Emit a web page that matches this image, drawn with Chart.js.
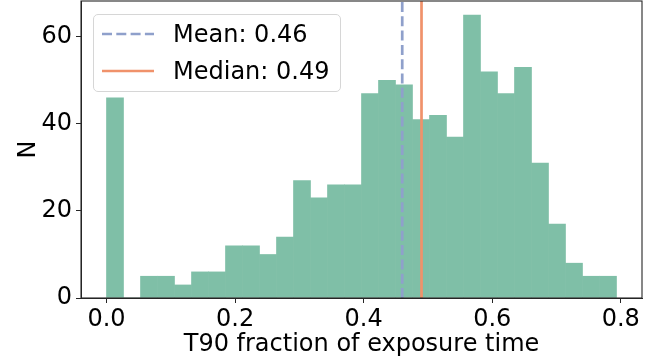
<!DOCTYPE html>
<html>
<head>
<meta charset="utf-8">
<script src="https://cdn.jsdelivr.net/npm/chart.js@4/dist/chart.umd.min.js"></script>
<style>
  body { margin: 0; background: #fff; }
  #wrap { position: relative; width: 665px; height: 361px; }
  #legend {
    position: absolute; left: 93px; top: 14px; width: 246px; height: 76px;
    border: 1px solid #d6d6d6; border-radius: 5px; background: rgba(255,255,255,0.8);
    font-family: 'DejaVu Sans', sans-serif; font-size: 24px; color: #000;
  }
  .row { position: absolute; left: 0; height: 30px; display: flex; align-items: center; }
  .row svg { margin-left: 8px; margin-right: 19px; }
</style>
</head>
<body>
<div id="wrap">
  <canvas id="myChart" width="665" height="361"></canvas>
  <div id="legend"></div>
</div>
<script>
// histogram counts, 30 equal bins
let contagens = [46, 0, 5, 5, 3, 6, 6, 12, 12, 10, 14, 27, 23, 26, 26, 47, 50, 49, 41, 42, 37, 65, 52, 47, 53, 31, 17, 8, 5, 5]
let binInicio = 0.0
let binFim = 0.7933
let media = 0.46
let mediana = 0.49
let xTicks = [0.0, 0.2, 0.4, 0.6, 0.8]
let yTicks = [0, 20, 40, 60]

let largura = (binFim - binInicio) / contagens.length
let pontos = contagens.map(function(c, i){ return {x: binInicio + (i + 0.5) * largura, y: c} })
let yMax = Math.max(...contagens) * 1.05
let pad = (binFim - binInicio) * 0.05

Chart.defaults.font.family = "'DejaVu Sans', sans-serif"
Chart.defaults.font.size = 24
Chart.defaults.color = '#000'

// frame around the plot area (matplotlib style spines)
let moldura = {
  id: 'moldura',
  afterDraw: function(chart){
    let a = chart.chartArea
    let ctx = chart.ctx
    ctx.save()
    ctx.strokeStyle = '#262626'
    ctx.lineWidth = 1.1
    ctx.strokeRect(a.left, a.top, a.right - a.left, a.bottom - a.top)
    ctx.restore()
  }
}

let ctx = document.getElementById('myChart')
let grafico = new Chart(ctx, {
  type: 'bar',
  data: {
    datasets: [{
      label: 'N',
      data: pontos,
      backgroundColor: 'rgb(127, 191, 167)',
      borderWidth: 0,
      barPercentage: 1,
      categoryPercentage: 1,
      order: 3,
    }, {
      type: 'line',
      label: 'Mean: ' + media.toFixed(2),
      data: [{x: media, y: 0}, {x: media, y: yMax}],
      borderColor: 'rgb(143, 160, 203)',
      borderWidth: 2.7,
      borderDash: [10, 4.3],
      pointRadius: 0,
      order: 1,
    }, {
      type: 'line',
      label: 'Median: ' + mediana.toFixed(2),
      data: [{x: mediana, y: 0}, {x: mediana, y: yMax}],
      borderColor: 'rgb(240, 146, 107)',
      borderWidth: 2.7,
      pointRadius: 0,
      order: 2,
    }]
  },
  options: {
    responsive: false,
    animation: false,
    layout: { padding: { top: 1, right: 23 } },
    plugins: { legend: { display: false }, tooltip: { enabled: false } },
    scales: {
      x: {
        type: 'linear',
        offset: false,
        min: binInicio - pad,
        max: binFim + pad,
        afterBuildTicks: function(s){ s.ticks = xTicks.map(function(v){ return {value: v} }) },
        afterFit: function(s){ s.height = 63; s.paddingLeft = 0; s.paddingRight = 0 },
        ticks: { padding: 2, autoSkip: false, maxRotation: 0, callback: function(v){ return v.toFixed(1) } },
        grid: { offset: false, drawOnChartArea: false, tickLength: 5, tickColor: '#262626' },
        border: { color: '#262626' },
        title: { display: true, text: 'T90 fraction of exposure time', padding: { top: 0, bottom: 2 } },
      },
      y: {
        min: 0,
        max: yMax,
        afterBuildTicks: function(s){ s.ticks = yTicks.map(function(v){ return {value: v} }) },
        afterFit: function(s){ s.width = 81; s.paddingTop = 0; s.paddingBottom = 0 },
        ticks: { padding: 4 },
        grid: { drawOnChartArea: false, tickLength: 5, tickColor: '#262626' },
        border: { color: '#262626' },
        title: { display: true, text: 'N', padding: { top: 14, bottom: 0 } },
      }
    }
  },
  plugins: [moldura],
})

// legend box inside the plot, built from the line datasets
let legenda = document.getElementById('legend')
grafico.data.datasets.slice(1).forEach(function(ds, i){
  let linha = document.createElement('div')
  linha.className = 'row'
  linha.style.top = (4 + i * 36.7) + 'px'
  let dash = ds.borderDash ? 'stroke-dasharray="' + ds.borderDash.join(' ') + '"' : ''
  linha.innerHTML = '<svg width="52" height="10"><line x1="0" y1="5" x2="52" y2="5" stroke="' +
    ds.borderColor + '" stroke-width="' + ds.borderWidth + '" ' + dash + '/></svg><span>' + ds.label + '</span>'
  legenda.appendChild(linha)
})
</script>
</body>
</html>
